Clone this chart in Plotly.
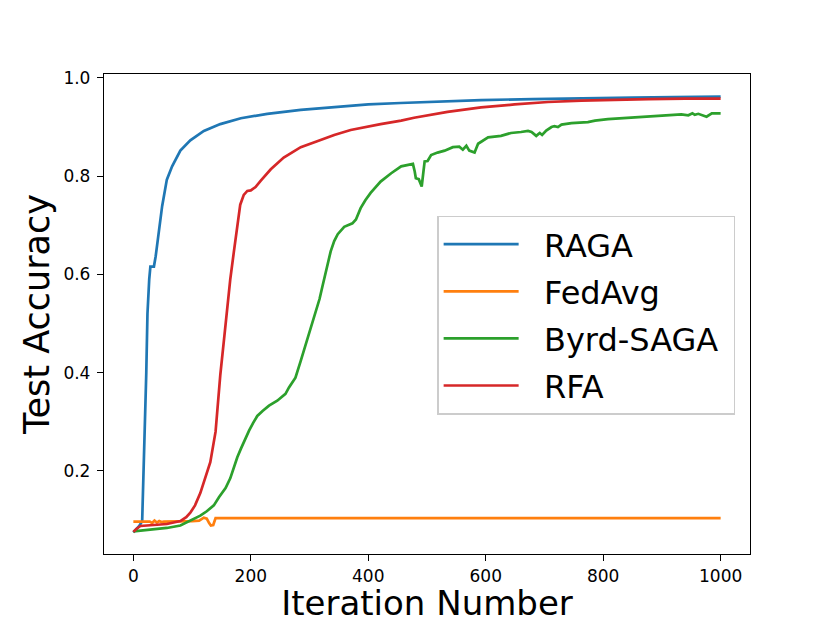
import plotly.graph_objects as go

# Test accuracy per iteration
raga_iter = [0, 5, 10, 15, 19, 22, 24, 25.5, 27, 29, 35, 38, 43, 49, 57, 66, 80, 97, 120, 148,
             183, 228, 285, 342, 400, 455, 520, 592, 680, 763, 850, 920, 1000]
raga_acc = [0.075, 0.082, 0.088, 0.098, 0.25, 0.40, 0.52, 0.56, 0.59, 0.616, 0.616, 0.637, 0.685,
            0.739, 0.793, 0.820, 0.852, 0.873, 0.892, 0.906, 0.918, 0.927, 0.935, 0.941, 0.946,
            0.949, 0.952, 0.955, 0.957, 0.959, 0.960, 0.961, 0.962]

fedavg_iter = [0, 28, 32, 36, 40, 44, 48, 52, 100, 112, 120, 125, 129, 132, 136, 140, 1000]
fedavg_acc = [0.097, 0.097, 0.094, 0.099, 0.095, 0.098, 0.096, 0.097, 0.098, 0.099, 0.105,
              0.103, 0.094, 0.089, 0.090, 0.104, 0.104]

byrd_iter = [0, 29, 57, 80, 92, 103, 114, 125, 137, 146, 157, 165, 171, 177, 183, 190, 197, 204,
             211, 220, 231, 245, 252, 259, 265, 276, 285, 296, 304, 311, 317, 322, 329, 336, 342,
             348, 359, 373, 379, 387, 395, 404, 421, 439, 456, 467, 476, 479, 481, 486, 491, 494,
             496, 501, 507, 518, 530, 544, 555, 561, 567, 572, 581, 587, 595, 604, 626, 643, 660,
             672, 678, 686, 692, 696, 703, 712, 717, 723, 729, 746, 774, 786, 808, 831, 860, 888,
             916, 933, 945, 952, 956, 962, 976, 985, 1000]
byrd_acc = [0.077, 0.080, 0.084, 0.089, 0.096, 0.102, 0.109, 0.118, 0.130, 0.147, 0.165, 0.185,
            0.207, 0.228, 0.245, 0.265, 0.282, 0.298, 0.312, 0.322, 0.333, 0.343, 0.350, 0.357,
            0.370, 0.390, 0.424, 0.468, 0.500, 0.525, 0.550, 0.576, 0.612, 0.647, 0.668, 0.682,
            0.697, 0.704, 0.712, 0.735, 0.751, 0.766, 0.789, 0.806, 0.820, 0.823, 0.825, 0.810,
            0.796, 0.794, 0.779, 0.810, 0.830, 0.831, 0.843, 0.848, 0.852, 0.859, 0.860, 0.854,
            0.862, 0.852, 0.848, 0.866, 0.873, 0.879, 0.882, 0.888, 0.890, 0.892, 0.890, 0.882,
            0.888, 0.884, 0.893, 0.900, 0.902, 0.900, 0.905, 0.908, 0.910, 0.913, 0.916, 0.918,
            0.921, 0.923, 0.925, 0.926, 0.924, 0.928, 0.925, 0.927, 0.921, 0.928, 0.928]

rfa_iter = [0, 5, 12, 29, 57, 80, 90, 97, 105, 114, 122, 131, 140, 148, 155, 160, 165, 171, 177,
            182, 188, 194, 200, 208, 217, 234, 256, 285, 313, 342, 370, 399, 421, 456, 478, 535,
            592, 649, 706, 763, 820, 877, 940, 1000]
rfa_acc = [0.076, 0.082, 0.088, 0.090, 0.092, 0.098, 0.106, 0.115, 0.130, 0.155, 0.185, 0.218,
           0.280, 0.395, 0.475, 0.535, 0.590, 0.645, 0.695, 0.742, 0.762, 0.770, 0.771, 0.778,
           0.791, 0.814, 0.838, 0.859, 0.871, 0.884, 0.894, 0.901, 0.906, 0.913, 0.919, 0.931,
           0.940, 0.946, 0.951, 0.954, 0.956, 0.957, 0.958, 0.958]

x_ticks = [0, 200, 400, 600, 800, 1000]
y_ticks = [0.2, 0.4, 0.6, 0.8, 1.0]

series = [
    ('RAGA', raga_iter, raga_acc, '#1f77b4'),
    ('FedAvg', fedavg_iter, fedavg_acc, '#ff7f0e'),
    ('Byrd-SAGA', byrd_iter, byrd_acc, '#2ca02c'),
    ('RFA', rfa_iter, rfa_acc, '#d62728'),
]

font = 'DejaVu Sans, Verdana, sans-serif'

fig = go.Figure()
for name, xs, ys, color in series:
    fig.add_trace(go.Scatter(
        x=xs, y=ys, mode='lines',
        # non-breaking spaces widen the gap after the legend line and the right padding
        name='\u00a0\u00a0' + name + '\u00a0',
        legendgroup=name,
        line=dict(color=color, width=2.7)
    ))

axis_style = dict(
    showline=True, mirror=True, linecolor='black', linewidth=1.3,
    ticks='outside', ticklen=6, tickwidth=1.3, tickcolor='black',
    showgrid=False, zeroline=False, automargin=False,
    tickfont=dict(family=font, size=17, color='black'),
)

fig.update_xaxes(
    range=[-50, 1050], tickvals=x_ticks, ticklabelstandoff=0,
    title=dict(text='Iteration Number', font=dict(family=font, size=34, color='black'), standoff=8),
    **axis_style
)
fig.update_yaxes(
    range=[0.031, 1.008], tickvals=y_ticks, tickformat='.1f', ticklabelstandoff=3,
    title=dict(text='Test Accuracy', font=dict(family=font, size=35, color='black'), standoff=3),
    **axis_style
)

# the page body adds an 8px offset, so the figure is drawn 8px smaller than the window
fig.update_layout(
    width=822, height=615,
    margin=dict(l=96, r=80, t=66, b=69),
    paper_bgcolor='white', plot_bgcolor='white',
    font=dict(family=font, color='black'),
    legend=dict(
        x=0.516, y=0.705, xanchor='left', yanchor='top',
        bgcolor='rgba(255,255,255,0.8)', bordercolor='#cccccc', borderwidth=1.3,
        font=dict(family=font, size=32, color='black'),
        itemwidth=75, tracegroupgap=2.5,
    ),
)

fig.write_html('out.html')
